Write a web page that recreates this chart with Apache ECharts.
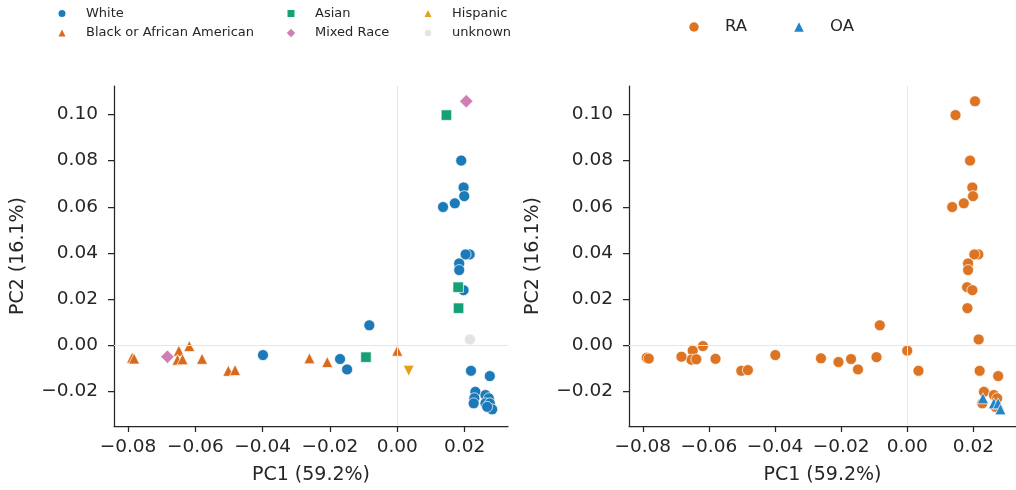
<!DOCTYPE html>
<html><head><meta charset="utf-8">
<script src="https://cdn.jsdelivr.net/npm/echarts@6/dist/echarts.min.js"></script>
<style>html,body{margin:0;padding:0;background:#fff}#c{width:1016px;height:490px}</style>
</head><body><div id="c"></div>
<script>
// ---- data ----
const pc1 = [
  -0.0788,-0.0782,-0.0649,-0.0653,-0.0638,-0.0618,-0.0580,-0.0502,-0.0482,-0.0261,-0.0208,0.0000,
  -0.0683,0.0205,
  0.0146,0.0181,0.0182,-0.0093,
  0.0034,
  0.0216,
  0.0190,0.0197,0.0199,0.0171,0.0136,0.0215,0.0203,0.0184,0.0184,0.0197,
  -0.0399,-0.0170,-0.0149,-0.0083,0.0219,0.0275,
  0.0232,0.0229,0.0227,0.0262,0.0272,0.0262,0.0275,0.0282,0.0267
];
const pc2 = [
  -0.0053,-0.0057,-0.0023,-0.0062,-0.0060,-0.0003,-0.0058,-0.0110,-0.0107,-0.0056,-0.0072,-0.0023,
  -0.0049,0.1057,
  0.0997,0.0252,0.0161,-0.0051,
  -0.0110,
  0.0026,
  0.0800,0.0684,0.0646,0.0615,0.0599,0.0394,0.0394,0.0355,0.0326,0.0239,
  -0.0042,-0.0059,-0.0104,0.0087,-0.0110,-0.0133,
  -0.0201,-0.0229,-0.0251,-0.0215,-0.0229,-0.0251,-0.0251,-0.0277,-0.0266
];
const race = [
  'B','B','B','B','B','B','B','B','B','B','B','B',
  'M','M',
  'A','A','A','A',
  'H',
  'U',
  'W','W','W','W','W','W','W','W','W','W',
  'W','W','W','W','W','W',
  'W','W','W','W','W','W','W','W','W'
];
const cohort = [
  'RA','RA','RA','RA','RA','RA','RA','RA','RA','RA','RA','RA',
  'RA','RA',
  'RA','RA','RA','RA',
  'RA',
  'RA',
  'RA','RA','RA','RA','RA','RA','RA','RA','RA','RA',
  'RA','RA','RA','RA','RA','RA',
  'RA','OA','RA','RA','RA','OA','OA','OA','RA'
];
const raceKeys   = ['W','B','A','M','H','U'];
const raceNames  = ['White','Black or African American','Asian','Mixed Race','Hispanic','unknown'];
const cohortNames = ['RA','OA'];
const xTicks = [-0.08,-0.06,-0.04,-0.02,0.00,0.02];
const yTicks = [-0.02,0.00,0.02,0.04,0.06,0.08,0.10];
const xLabel = 'PC1 (59.2%)';
const yLabel = 'PC2 (16.1%)';

// ---- styles ----
const FONT = 'DejaVu Sans';
const TXT = '#262626';
const raceStyle = {
  W:{color:'#1b7ab7', symbol:'circle', size:11},
  B:{color:'#d9691c', symbol:'triangle', size:11},
  A:{color:'#17a078', symbol:'rect', size:10.5},
  M:{color:'#d07fb6', symbol:'diamond', size:13.5},
  H:{color:'#e3a11c', symbol:'triangle', size:11, rotate:180},
  U:{color:'#e3e3e3', symbol:'circle', size:11}
};
const cohortStyle = {
  RA:{color:'#dd7424', symbol:'circle', size:11},
  OA:{color:'#2185c8', symbol:'triangle', size:11}
};
const X_MIN = -0.08417, X_MAX = 0.0329, Y_MIN = -0.0349, Y_MAX = 0.1123;
const fmt = v => (v < 0 ? '\u2212' : '') + Math.abs(v).toFixed(2);

function xAxis(gi){
  return {type:'value', gridIndex:gi, min:X_MIN, max:X_MAX,
    axisLine:{show:true, onZero:false, lineStyle:{color:TXT, width:1.25}},
    axisTick:{show:true, length:6, customValues:xTicks, lineStyle:{color:TXT, width:1.25}},
    axisLabel:{customValues:xTicks, formatter:fmt, color:TXT, fontSize:18.5, fontFamily:FONT, margin:12},
    splitLine:{show:false},
    name:xLabel, nameLocation:'middle', nameGap:40,
    nameTextStyle:{color:TXT, fontSize:19, fontFamily:FONT}};
}
function yAxis(gi){
  return {type:'value', gridIndex:gi, min:Y_MIN, max:Y_MAX,
    axisLine:{show:true, onZero:false, lineStyle:{color:TXT, width:1.25}},
    axisTick:{show:true, length:6, customValues:yTicks, lineStyle:{color:TXT, width:1.25}},
    axisLabel:{customValues:yTicks, formatter:fmt, color:TXT, fontSize:18.5, fontFamily:FONT, margin:16},
    splitLine:{show:false},
    name:yLabel, nameLocation:'middle', nameGap:86,
    nameTextStyle:{color:TXT, fontSize:19, fontFamily:FONT}};
}
function zeroLines(gi){
  return {type:'line', xAxisIndex:gi, yAxisIndex:gi, data:[], z:1, silent:true,
    markLine:{silent:true, symbol:'none', animation:false, label:{show:false},
      lineStyle:{color:'#e6e6e6', width:1, type:'solid'},
      data:[{xAxis:0},{yAxis:0}]}};
}

const series = [zeroLines(0), zeroLines(1)];
raceKeys.forEach((k,i)=>{
  const st = raceStyle[k];
  const d = [];
  pc1.forEach((x,j)=>{ if(race[j]===k) d.push([x, pc2[j]]); });
  series.push({type:'scatter', name:raceNames[i], xAxisIndex:0, yAxisIndex:0, z:2,
    symbol:st.symbol, symbolSize:st.size, symbolRotate:st.rotate||0, data:d,
    itemStyle:{color:st.color, borderColor:'#fff', borderWidth:0.7, opacity:1}});
});
cohortNames.forEach(c=>{
  const st = cohortStyle[c];
  const d = [];
  pc1.forEach((x,j)=>{ if(cohort[j]===c) d.push([x, pc2[j]]); });
  series.push({type:'scatter', name:c, xAxisIndex:1, yAxisIndex:1, z:3,
    symbol:st.symbol, symbolSize:st.size, data:d,
    itemStyle:{color:st.color, borderColor:'#fff', borderWidth:0.7, opacity:1}});
});

// legends: one component per item for exact placement
function leg(name, cx, cy, icon, fs, textX){
  return {data:[{name:name, itemStyle:{borderWidth:0}}], left:cx-icon/2, top:cy-9, padding:0,
    itemWidth:icon, itemHeight:icon, selectedMode:false,
    textStyle:{fontSize:fs, fontFamily:FONT, color:TXT, lineHeight:18,
      padding:[0,0,0,textX-(cx+icon/2)-5]}};
}
const legends = [
  leg('White', 62, 13.5, 7, 13, 86),
  leg('Black or African American', 62, 33, 7, 13, 86),
  leg('Asian', 291, 13.5, 7, 13, 315),
  leg('Mixed Race', 291, 33, 8.5, 13, 315),
  leg('Hispanic', 428, 13.5, 7, 13, 452),
  leg('unknown', 428, 33, 6.5, 13, 452),
  leg('RA', 694, 27, 9.5, 16.5, 725),
  leg('OA', 799, 27, 9.5, 16.5, 830)
];

const chart = echarts.init(document.getElementById('c'), null, {renderer:'canvas'});
chart.setOption({
  animation:false,
  backgroundColor:'#fff',
  textStyle:{fontFamily:FONT},
  grid:[{left:114, top:86, width:394, height:340},
        {left:629, top:86, width:394, height:340}],
  xAxis:[xAxis(0), xAxis(1)],
  yAxis:[yAxis(0), yAxis(1)],
  legend:legends,
  series:series
});
</script></body></html>
